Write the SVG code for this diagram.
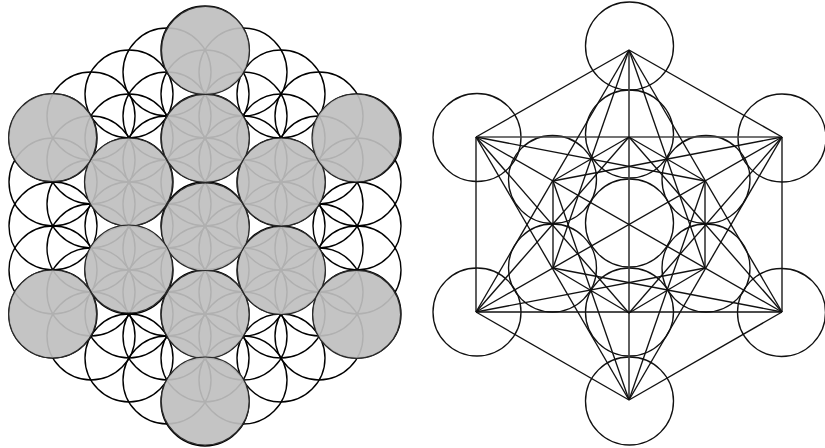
<svg xmlns="http://www.w3.org/2000/svg" width="825" height="448" viewBox="0 0 825 448">
<style>
circle{fill:none;stroke:#111;stroke-width:1.35}
#flower circle{stroke:#000;stroke-width:1.4}
#gray circle{fill:#bfbfbf;fill-opacity:.92;stroke:#2a2a2a;stroke-width:1.2}
#connectors line{stroke:#111;stroke-width:1.35}
#connectors line.c{stroke:#444;stroke-width:1.7}
</style>
<rect width="825" height="448" fill="#fff"/>
<g id="flower">
<circle cx="53" cy="138" r="44"/><circle cx="53" cy="182" r="44"/><circle cx="53" cy="226" r="44"/><circle cx="53" cy="270" r="44"/><circle cx="53" cy="314" r="44"/>
<circle cx="91" cy="116" r="44"/><circle cx="91" cy="160" r="44"/><circle cx="91" cy="204" r="44"/><circle cx="91" cy="248" r="44"/><circle cx="91" cy="292" r="44"/><circle cx="91" cy="336" r="44"/>
<circle cx="129" cy="94" r="44"/><circle cx="129" cy="138" r="44"/><circle cx="129" cy="182" r="44"/><circle cx="129" cy="226" r="44"/><circle cx="129" cy="270" r="44"/><circle cx="129" cy="314" r="44"/><circle cx="129" cy="358" r="44"/>
<circle cx="167" cy="72" r="44"/><circle cx="167" cy="116" r="44"/><circle cx="167" cy="160" r="44"/><circle cx="167" cy="204" r="44"/><circle cx="167" cy="248" r="44"/><circle cx="167" cy="292" r="44"/><circle cx="167" cy="336" r="44"/><circle cx="167" cy="380" r="44"/>
<circle cx="205" cy="50" r="44"/><circle cx="205" cy="94" r="44"/><circle cx="205" cy="138" r="44"/><circle cx="205" cy="182" r="44"/><circle cx="205" cy="226" r="44"/><circle cx="205" cy="270" r="44"/><circle cx="205" cy="314" r="44"/><circle cx="205" cy="358" r="44"/><circle cx="205" cy="402" r="44"/>
<circle cx="243" cy="72" r="44"/><circle cx="243" cy="116" r="44"/><circle cx="243" cy="160" r="44"/><circle cx="243" cy="204" r="44"/><circle cx="243" cy="248" r="44"/><circle cx="243" cy="292" r="44"/><circle cx="243" cy="336" r="44"/><circle cx="243" cy="380" r="44"/>
<circle cx="281" cy="94" r="44"/><circle cx="281" cy="138" r="44"/><circle cx="281" cy="182" r="44"/><circle cx="281" cy="226" r="44"/><circle cx="281" cy="270" r="44"/><circle cx="281" cy="314" r="44"/><circle cx="281" cy="358" r="44"/>
<circle cx="319" cy="116" r="44"/><circle cx="319" cy="160" r="44"/><circle cx="319" cy="204" r="44"/><circle cx="319" cy="248" r="44"/><circle cx="319" cy="292" r="44"/><circle cx="319" cy="336" r="44"/>
<circle cx="357" cy="138" r="44"/><circle cx="357" cy="182" r="44"/><circle cx="357" cy="226" r="44"/><circle cx="357" cy="270" r="44"/><circle cx="357" cy="314" r="44"/>
</g>
<g id="gray">
<circle cx="205.5" cy="50.5" r="44"/><circle cx="205.3" cy="138.3" r="44"/><circle cx="205.3" cy="227" r="44"/><circle cx="205.2" cy="314.5" r="44"/><circle cx="205.2" cy="401" r="44"/>
<circle cx="128.5" cy="182" r="44"/><circle cx="281.3" cy="182" r="44"/><circle cx="128.7" cy="269" r="44"/><circle cx="281.4" cy="270.5" r="44"/>
<circle cx="52.6" cy="137.7" r="44"/><circle cx="356" cy="138" r="44"/><circle cx="52.6" cy="314" r="44"/><circle cx="356.6" cy="314.4" r="44"/>
</g>
<g id="cube-circles">
<circle cx="629.5" cy="46" r="44"/><circle cx="629.5" cy="134" r="44"/><circle cx="629.5" cy="223" r="44"/><circle cx="629.5" cy="312" r="44"/><circle cx="629.5" cy="401" r="44"/>
<circle cx="552.5" cy="179.5" r="44"/><circle cx="706" cy="179.5" r="44"/><circle cx="552.5" cy="268" r="44"/><circle cx="706" cy="268" r="44"/>
<circle cx="477" cy="137.5" r="44"/><circle cx="782" cy="138" r="44"/><circle cx="477" cy="312" r="44"/><circle cx="781.5" cy="312.5" r="44"/>
</g>
<g id="connectors">
<line x1="629" y1="50" x2="476" y2="137"/><line x1="629" y1="50" x2="782" y2="137"/>
<line x1="629" y1="400" x2="476" y2="312"/><line x1="629" y1="400" x2="782" y2="312"/>
<line x1="476" y1="137" x2="476" y2="312"/><line x1="782" y1="137" x2="782" y2="312"/>
<line class="c" x1="476" y1="137" x2="782" y2="137"/><line x1="476" y1="312" x2="782" y2="312"/>
<line class="c" x1="629" y1="50" x2="629" y2="400"/>
<line x1="476" y1="137" x2="782" y2="312"/><line x1="782" y1="137" x2="476" y2="312"/>
<line x1="629" y1="50" x2="476" y2="312"/><line x1="629" y1="50" x2="782" y2="312"/>
<line x1="629" y1="400" x2="476" y2="137"/><line x1="629" y1="400" x2="782" y2="137"/>
<line x1="476" y1="137" x2="705" y2="181"/><line x1="476" y1="137" x2="629" y2="313"/>
<line x1="782" y1="137" x2="553" y2="181"/><line x1="782" y1="137" x2="629" y2="313"/>
<line x1="476" y1="312" x2="705" y2="268"/><line x1="476" y1="312" x2="629" y2="137"/>
<line x1="782" y1="312" x2="553" y2="268"/><line x1="782" y1="312" x2="629" y2="137"/>
<line x1="629" y1="50" x2="553" y2="268"/><line x1="629" y1="50" x2="705" y2="268"/>
<line x1="629" y1="400" x2="553" y2="181"/><line x1="629" y1="400" x2="705" y2="181"/>
<line x1="629" y1="137" x2="553" y2="181"/><line x1="629" y1="137" x2="705" y2="181"/>
<line x1="629" y1="313" x2="553" y2="268"/><line x1="629" y1="313" x2="705" y2="268"/>
<line x1="553" y1="181" x2="553" y2="268"/><line x1="705" y1="181" x2="705" y2="268"/>
</g>
</svg>
